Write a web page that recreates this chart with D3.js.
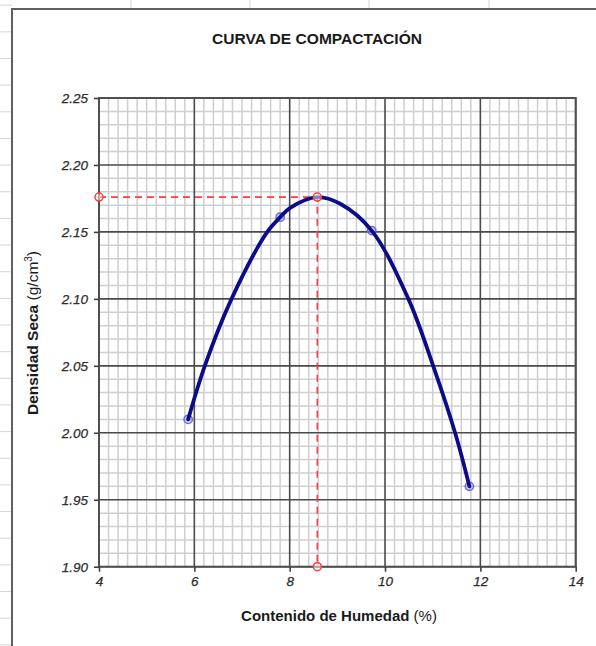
<!DOCTYPE html>
<html>
<head>
<meta charset="utf-8">
<script src="https://cdn.jsdelivr.net/npm/d3@7"></script>
<style>
  html, body { margin: 0; padding: 0; background: #fff; }
  svg { display: block; }
  text { font-family: "Liberation Sans", Arial, sans-serif; }
</style>
</head>
<body>
<svg id="chart" width="596" height="646"></svg>
<script>
// ---- Data ----
const moisture = [5.87, 7.80, 9.72, 11.77];          // Contenido de Humedad (%)
const density  = [2.010, 2.161, 2.151, 1.960];       // Densidad Seca (g/cm3)

// Trend curve
const curveX = [5.87, 6.22, 6.78, 7.53, 7.80, 8.01, 8.58, 9.06, 9.72, 10.49, 11.01, 11.47, 11.77];
const curveY = [2.010, 2.050, 2.100, 2.150, 2.161, 2.168, 2.176, 2.171, 2.151, 2.100, 2.050, 2.000, 1.960];

// Optimum (dashed red guide)
const guideX = [4, 8.58, 8.58];
const guideY = [2.176, 2.176, 1.90];

const xTicks = [4, 6, 8, 10, 12, 14];
const yTicks = [1.90, 1.95, 2.00, 2.05, 2.10, 2.15, 2.20, 2.25];

const titleText = "CURVA DE COMPACTACIÓN";
const xLabel = "Contenido de Humedad";
const yLabel = "Densidad Seca";

// ---- Layout ----
const svg = d3.select("#chart");
const L = 99, R = 575.7, T = 98, B = 566.7;

const x = d3.scaleLinear().domain([4, 14]).range([L, R]);
const y = d3.scaleLinear().domain([1.90, 2.25]).range([B, T]);

// Spreadsheet cells behind the chart
const cellG = svg.append("g").attr("stroke", "#d6d6d6").attr("stroke-width", 1);
[131, 250, 369, 489].forEach(cx => {
  cellG.append("line").attr("x1", cx).attr("x2", cx).attr("y1", 0).attr("y2", 9);
});
for (let k = 0; k < 25; k++) {
  const cy = 5.2 + 26.65 * k;
  cellG.append("line").attr("x1", 0).attr("x2", 12).attr("y1", cy).attr("y2", cy);
}

// Chart area
svg.append("rect").attr("x", 12).attr("y", 9).attr("width", 700).attr("height", 700)
  .attr("fill", "#fff").attr("stroke", "#606060").attr("stroke-width", 2);

// Minor grid
const minorX = d3.range(4, 14.0001, 0.2).map(v => +v.toFixed(2)).filter(v => Math.abs(v / 2 - Math.round(v / 2)) > 1e-6);
const minorY = d3.range(1.90, 2.2501, 0.01).map(v => +v.toFixed(2)).filter(v => Math.abs(v / 0.05 - Math.round(v / 0.05)) > 1e-6);
const gridG = svg.append("g");
gridG.selectAll("line.mx").data(minorX).join("line")
  .attr("x1", d => x(d)).attr("x2", d => x(d)).attr("y1", T).attr("y2", B)
  .attr("stroke", "#cfcfcf").attr("stroke-width", 1.5);
gridG.selectAll("line.my").data(minorY).join("line")
  .attr("x1", L).attr("x2", R).attr("y1", d => y(d)).attr("y2", d => y(d))
  .attr("stroke", "#cfcfcf").attr("stroke-width", 1.5);

// Major grid
gridG.selectAll("line.Mx").data(xTicks).join("line")
  .attr("x1", d => x(d)).attr("x2", d => x(d)).attr("y1", T).attr("y2", B)
  .attr("stroke", "#4a4a4a").attr("stroke-width", 1.6);
gridG.selectAll("line.My").data(yTicks).join("line")
  .attr("x1", L).attr("x2", R).attr("y1", d => y(d)).attr("y2", d => y(d))
  .attr("stroke", "#4a4a4a").attr("stroke-width", 1.6);

// Plot border
svg.append("rect").attr("x", L).attr("y", T).attr("width", R - L).attr("height", B - T)
  .attr("fill", "none").attr("stroke", "#505050").attr("stroke-width", 2);

// Axes
const yAxis = d3.axisLeft(y).tickValues(yTicks).tickFormat(d3.format(".2f")).tickSize(5).tickPadding(6);
const xAxis = d3.axisBottom(x).tickValues(xTicks).tickFormat(d3.format("d")).tickSize(5).tickPadding(5);

const gy = svg.append("g").attr("transform", `translate(${L},0)`).call(yAxis);
const gx = svg.append("g").attr("transform", `translate(0,${B})`).call(xAxis);
[gy, gx].forEach(g => {
  g.select(".domain").remove();
  g.selectAll(".tick line").attr("stroke", "#404040").attr("stroke-width", 1.6);
  g.selectAll(".tick text")
    .attr("fill", "#2e2e2e")
    .style("font-family", '"Liberation Sans", Arial, sans-serif')
    .style("font-size", "13.5px")
    .style("font-style", "italic")
    .style("stroke", "#2e2e2e").style("stroke-width", 0.25);
});

// Red dashed guide
const line = d3.line().x(d => x(d[0])).y(d => y(d[1]));
const guidePts = guideX.map((v, i) => [v, guideY[i]]);
svg.append("path").attr("d", line(guidePts))
  .attr("fill", "none").attr("stroke", "#ff3b3b").attr("stroke-width", 1.6)
  .attr("stroke-dasharray", "7,5");

// Data markers (under the curve)
svg.selectAll("circle.p").data(moisture.map((v, i) => [v, density[i]])).join("circle")
  .attr("cx", d => x(d[0])).attr("cy", d => y(d[1])).attr("r", 4.2)
  .attr("fill", "rgba(140,140,230,0.45)").attr("stroke", "#6a6ad2").attr("stroke-width", 1.4);

// Curve
const curvePts = curveX.map((v, i) => [v, curveY[i]]);
svg.append("path")
  .attr("d", d3.line().x(d => x(d[0])).y(d => y(d[1])).curve(d3.curveCatmullRom.alpha(0.5))(curvePts))
  .attr("fill", "none").attr("stroke", "#0c0c8a").attr("stroke-width", 3.8)
  .attr("stroke-linecap", "round");

// Red guide markers
svg.selectAll("circle.g").data(guidePts).join("circle")
  .attr("cx", d => x(d[0])).attr("cy", d => y(d[1])).attr("r", 4)
  .attr("fill", "rgba(255,255,255,0.5)").attr("stroke", "#ff3b3b").attr("stroke-width", 1.5);

// Title
const title = svg.append("text").attr("x", 317).attr("y", 44)
  .attr("text-anchor", "middle")
  .attr("fill", "#1a1a1a")
  .style("font-size", "14.5px").style("font-weight", "bold")
  .text(titleText);
title.attr("textLength", 210).attr("lengthAdjust", "spacingAndGlyphs");

// X label
const xl = svg.append("text").attr("x", 339).attr("y", 621)
  .attr("text-anchor", "middle").attr("fill", "#1a1a1a")
  .style("font-size", "15px");
xl.append("tspan").style("font-weight", "bold").text(xLabel + " ");
xl.append("tspan").style("font-weight", "normal").text("(%)");

// Y label
const yl = svg.append("text")
  .attr("transform", `translate(38,333) rotate(-90)`)
  .attr("text-anchor", "middle").attr("fill", "#1a1a1a")
  .style("font-size", "15.5px");
yl.append("tspan").style("font-weight", "bold").text(yLabel + " ");
yl.append("tspan").style("font-weight", "normal").text("(g/cm");
yl.append("tspan").style("font-weight", "normal").style("font-size", "10px").attr("dy", -6).text("3");
yl.append("tspan").style("font-weight", "normal").attr("dy", 6).text(")");
</script>
</body>
</html>
